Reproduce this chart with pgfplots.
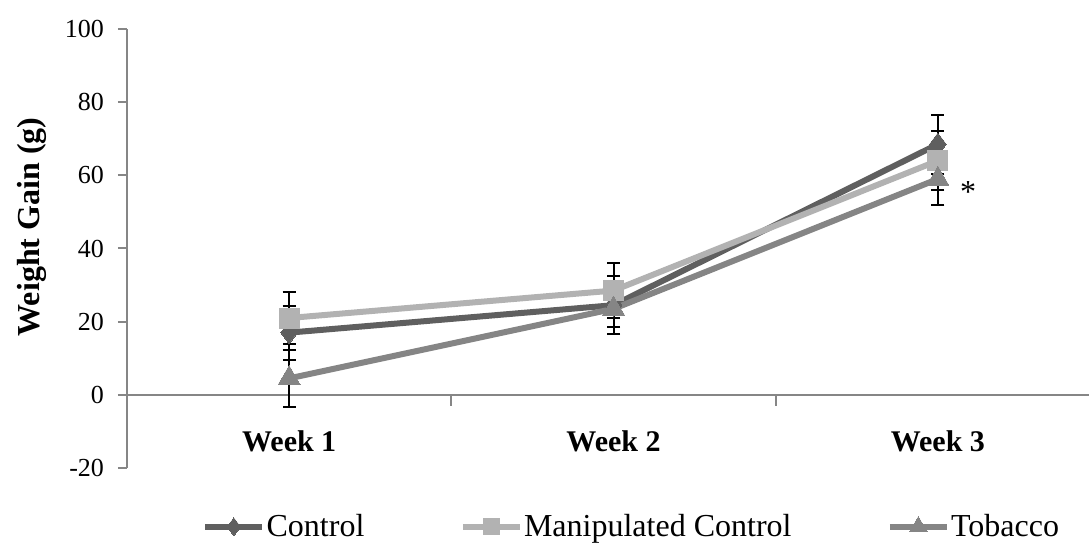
\documentclass[border=0pt]{standalone}
\usepackage{pgfplots}
\usepackage{pgfplotstable}
\pgfplotsset{compat=1.18}
\usepackage{fontspec}
\setmainfont{Liberation Serif}
\definecolor{cctrl}{HTML}{5F5F5F}
\definecolor{cman}{HTML}{B2B2B2}
\definecolor{ctob}{HTML}{858585}
\definecolor{axgray}{HTML}{868686}

\pgfplotstableread{
x y e
1 17 7.4
2 24.5 8
3 68.5 8.1
}\ctrl
\pgfplotstableread{
x y e
1 21 7.2
2 28.5 7.5
3 64 8
}\manip
\pgfplotstableread{
x y e
1 4.5 7.7
2 23.5 5
3 59 7
}\tob

\begin{document}
\begin{tikzpicture}
\useasboundingbox (-63.5pt,-41pt) rectangle (481pt,234pt);
\begin{axis}[
  at={(0,0)}, anchor=south west,
  scale only axis, width=481pt, height=219.5pt,
  xmin=0.5, xmax=3.466, ymin=-20, ymax=100,
  axis y line=left, axis x line=middle,
  axis line style={-, draw=axgray, line width=1pt},
  clip=false,
  ytick={-20,0,20,40,60,80,100},
  tick align=outside,
  major tick length=4.5pt,
  minor tick length=5.5pt,
  ytick style={draw=axgray, line width=1pt},
  xtick={1,2,3},
  xticklabels={Week 1,Week 2,Week 3},
  minor xtick={1.5,2.5},
  major x tick style={draw=none},
  minor x tick style={draw=axgray, line width=1pt},
  xticklabel style={font=\bfseries\fontsize{15}{18}\selectfont, anchor=center, yshift=-18.5pt},
  yticklabel style={font=\fontsize{13}{15}\selectfont, text=black, xshift=-3.5pt},
  /pgf/number format/assume math mode=true,
  ylabel={Weight Gain (g)},
  ylabel style={font=\bfseries\fontsize{16}{19}\selectfont, at={(rel axis cs:-0.099,0.549)}, anchor=center},
  legend columns=3,
  legend style={at={(0.078,-0.134)}, anchor=west, draw=none, fill=none, inner sep=0pt,
    nodes={inner sep=0.7pt},
    font=\fontsize{16}{19}\selectfont,
    /tikz/every odd column/.append style={column sep=0pt},
    /tikz/every even column/.append style={column sep=47pt}},
  legend image code/.code={\draw[mark repeat=2,mark phase=2,#1,every mark/.append style={scale=0.8}] plot coordinates {(0pt,0pt) (14.2pt,0pt) (28.4pt,0pt)};},
]
% error bars (under markers)
\addplot[draw=none, forget plot, error bars/.cd, y dir=both, y explicit,
  error bar style={draw=black, line width=1pt},
  error mark options={rotate=90, draw=black, mark size=3.25pt, line width=1pt}]
  table[x=x,y=y,y error=e]{\ctrl};
\addplot[draw=none, forget plot, error bars/.cd, y dir=both, y explicit,
  error bar style={draw=black, line width=1pt},
  error mark options={rotate=90, draw=black, mark size=3.25pt, line width=1pt}]
  table[x=x,y=y,y error=e]{\manip};
\addplot[draw=none, forget plot, error bars/.cd, y dir=both, y explicit,
  error bar style={draw=black, line width=1pt},
  error mark options={rotate=90, draw=black, mark size=3.25pt, line width=1pt}]
  table[x=x,y=y,y error=e]{\tob};
% series
\addplot[cctrl, line width=3pt, mark=diamond*, mark size=5.6pt,
  mark options={fill=cctrl, draw=cctrl, line width=0pt}] table[x=x,y=y]{\ctrl};
\addlegendentry{Control}
\addplot[cman, line width=3pt, mark=square*, mark size=5pt,
  mark options={fill=cman, draw=cman, line width=0pt}] table[x=x,y=y]{\manip};
\addlegendentry{Manipulated Control}
\addplot[ctob, line width=3pt, mark=triangle*, mark size=6.4pt,
  mark options={fill=ctob, draw=ctob, line width=0pt}] table[x=x,y=y]{\tob};
\addlegendentry{Tobacco}
\node[font=\fontsize{16}{18}\selectfont] at (axis cs:3.093,55.5) {*};
\end{axis}
\end{tikzpicture}
\end{document}
